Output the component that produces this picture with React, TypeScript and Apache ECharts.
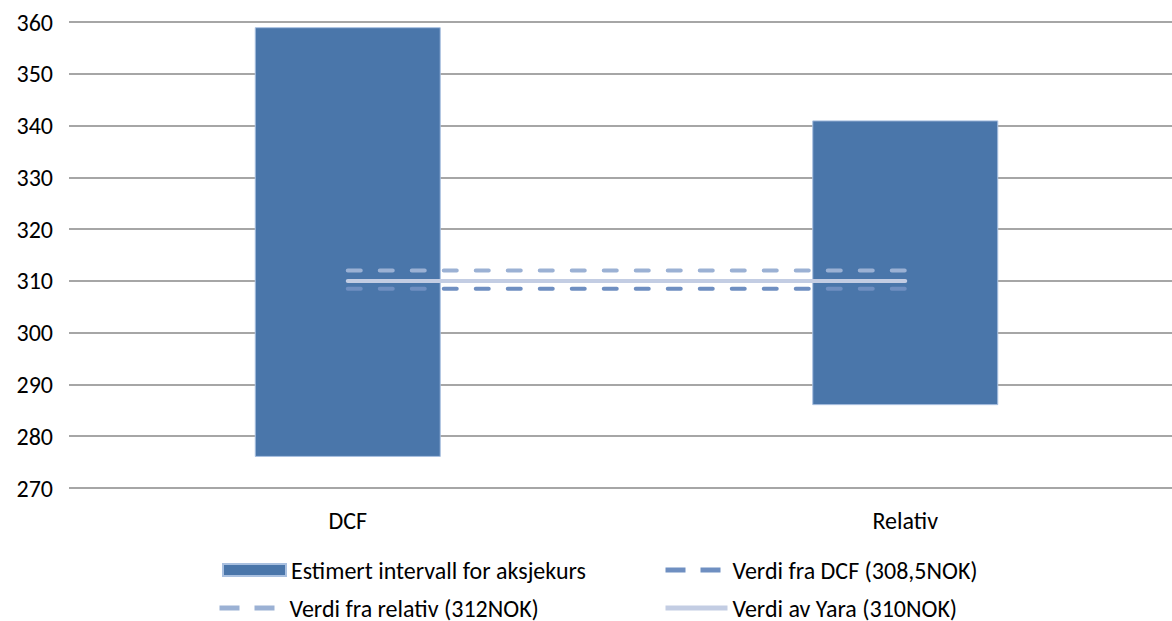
import React, { useEffect, useRef } from "react";
import * as echarts from "echarts";

const categories = ["DCF", "Relativ"];
const intervalLow = [276, 286];
const intervalHigh = [359, 341];
const dcfValue = 308.5;
const relativeValue = 312;
const yaraValue = 310;

const seriesNames = {
  interval: "Estimert intervall for aksjekurs",
  dcf: "Verdi fra DCF (308,5NOK)",
  relative: "Verdi fra relativ (312NOK)",
  yara: "Verdi av Yara (310NOK)",
};

const FONT = "Carlito, Lato, 'Open Sans', sans-serif";
const FONT_SIZE = 24;

export default function App() {
  const ref = useRef<HTMLDivElement>(null);

  useEffect(() => {
    if (!ref.current) return;
    const chart = echarts.init(ref.current, undefined, { renderer: "svg" });
    const rangeSize = intervalHigh.map((h, i) => h - intervalLow[i]);
    const flat = (v: number) => categories.map(() => v);
    const dashStyle = (color: string) => ({
      color,
      width: 4,
      type: [13, 19] as number[],
      cap: "round" as const,
    });
    const legendText = { fontFamily: FONT, fontSize: FONT_SIZE, color: "#000" };
    const lineLegend = (
      name: string,
      left: number,
      top: number,
      width: number,
      dashed: boolean
    ) => ({
      data: [name],
      left,
      top,
      padding: 0,
      itemWidth: width,
      itemHeight: 12,
      itemStyle: { opacity: 0, borderWidth: 0 },
      lineStyle: dashed
        ? { width: 5, type: [20, 15], cap: "butt" }
        : { width: 5, type: "solid", cap: "butt" },
      textStyle: legendText,
    });

    chart.setOption({
      animation: false,
      textStyle: { fontFamily: FONT },
      grid: { left: 69, right: 0, top: 22, bottom: 133 },
      xAxis: {
        type: "category",
        data: categories,
        axisLine: { show: false },
        axisTick: { show: false },
        axisLabel: { fontSize: FONT_SIZE, color: "#000", margin: 20, fontFamily: FONT },
      },
      yAxis: {
        type: "value",
        min: 270,
        max: 360,
        interval: 10,
        axisLine: { show: false },
        axisTick: { show: false },
        axisLabel: { fontSize: FONT_SIZE, color: "#000", margin: 16, fontFamily: FONT },
        splitLine: { lineStyle: { color: "#a6a6a6", width: 2 } },
      },
      legend: [
        {
          data: [{ name: seriesNames.interval, icon: "rect" }],
          left: 222,
          top: 558,
          padding: 0,
          itemWidth: 63,
          itemHeight: 12,
          textStyle: legendText,
        },
        lineLegend(seriesNames.dcf, 663, 558, 62, true),
        lineLegend(seriesNames.relative, 217, 596, 65, true),
        lineLegend(seriesNames.yara, 663, 596, 62, false),
      ],
      series: [
        {
          type: "bar",
          stack: "range",
          data: intervalLow,
          barWidth: 186,
          itemStyle: { color: "transparent" },
          silent: true,
        },
        {
          name: seriesNames.interval,
          type: "bar",
          stack: "range",
          data: rangeSize,
          barWidth: 186,
          itemStyle: { color: "#4a76aa", borderColor: "#a9c0e0", borderWidth: 1 },
        },
        {
          name: seriesNames.relative,
          type: "line",
          data: flat(relativeValue),
          symbol: "none",
          itemStyle: { color: "#9bb1d4" },
          lineStyle: dashStyle("#9bb1d4"),
          z: 5,
        },
        {
          name: seriesNames.dcf,
          type: "line",
          data: flat(dcfValue),
          symbol: "none",
          itemStyle: { color: "#6f8fc1" },
          lineStyle: dashStyle("#6f8fc1"),
          z: 5,
        },
        {
          name: seriesNames.yara,
          type: "line",
          data: flat(yaraValue),
          symbol: "none",
          itemStyle: { color: "#c3cde3" },
          lineStyle: { color: "#c3cde3", width: 4, cap: "round" },
          z: 6,
        },
      ],
    });
    return () => chart.dispose();
  }, []);

  return (
    <div style={{ position: "absolute", left: 0, top: 0, width: 1172, height: 621, overflow: "hidden", background: "#fff" }}>
      <div ref={ref} style={{ width: 1184, height: 621 }} />
    </div>
  );
}
